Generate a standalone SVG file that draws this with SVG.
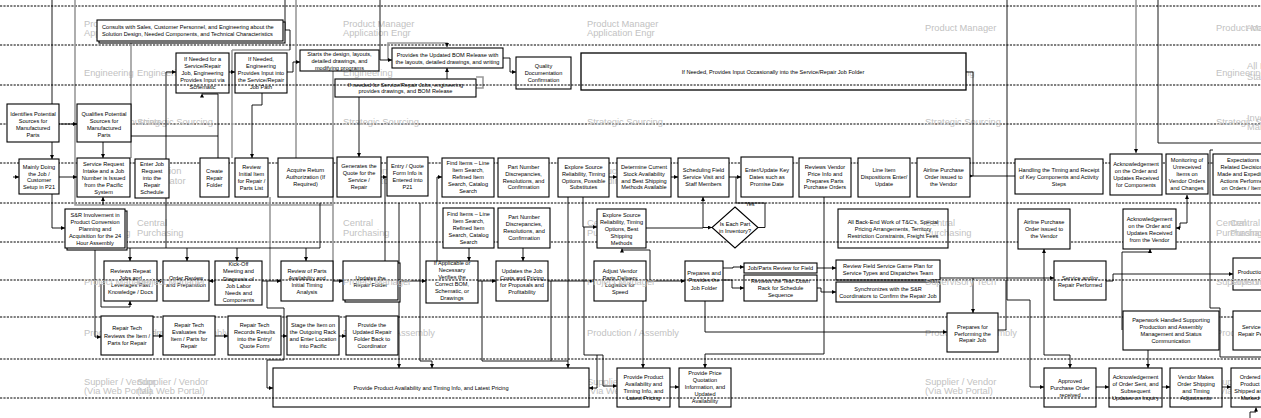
<svg xmlns="http://www.w3.org/2000/svg" width="1261" height="418" viewBox="0 0 1261 418">
<defs>
<marker id="ah" viewBox="0 0 6 6" markerWidth="4" markerHeight="4" refX="6" refY="3" orient="auto-start-reverse" markerUnits="userSpaceOnUse"><path d="M0,0 L6,3 L0,6 z" fill="#000"/></marker>
<marker id="ahg" viewBox="0 0 6 6" markerWidth="4" markerHeight="4" refX="6" refY="3" orient="auto" markerUnits="userSpaceOnUse"><path d="M0,0 L6,3 L0,6 z" fill="#000"/></marker>
</defs>
<style>
.lane{stroke:#000;stroke-width:1;stroke-dasharray:2.2,1.2;fill:none}
.lb{font-family:"Liberation Sans",Arial,sans-serif;font-size:9.3px;fill:#c2c2c2}
.n rect,.n polygon{fill:#fff;stroke:#000;stroke-width:1.1}
.nf rect{fill:none}
.t{font-family:"Liberation Sans",Arial,sans-serif;font-size:5.6px;fill:#000;text-anchor:middle}
.tl{text-anchor:start}
.c{fill:none;stroke:#000;stroke-width:0.9}
.g{fill:none;stroke:#9a9a9a;stroke-width:1.6}
.a{marker-end:url(#ah)}
.ab{marker-start:url(#ah);marker-end:url(#ah)}
.sh{fill:#8a8a8a;stroke:none}
</style>
<rect x="0" y="0" width="1261" height="418" fill="#fff"/>
<g id="lanes-under">
<path class="lane" d="M0,6H1261M0,45H1261M0,124H1261M0,163H1261M0,203H1261M0,242H1261M0,317H1261M0,359H1261"/>
</g>
<g id="lane-labels">
<text class="lb" x="84" y="26.8">Product Manager</text><text class="lb" x="84" y="36.2">Application Engr</text>
<text class="lb" x="137" y="26.8">Product Manager</text><text class="lb" x="137" y="36.2">Application Engr</text>
<text class="lb" x="343" y="26.8">Product Manager</text><text class="lb" x="343" y="36.2">Application Engr</text>
<text class="lb" x="587" y="26.8">Product Manager</text><text class="lb" x="587" y="36.2">Application Engr</text>
<text class="lb" x="925" y="31">Product Manager</text><text class="lb" x="1216" y="31">Product Manager</text><text class="lb" x="1246" y="31">Account Manager</text>
<text class="lb" x="84" y="75.5">Engineering</text><text class="lb" x="137" y="75.5">Engineering</text><text class="lb" x="343" y="75.5">Engineering</text><text class="lb" x="925" y="75.5">Engineering</text><text class="lb" x="1216" y="75.5">Engineering</text>
<text class="lb" x="1247" y="68.5">All Lead</text><text class="lb" x="1247" y="79.5">Staff</text>
<text class="lb" x="84" y="125.3">Strategic Sourcing</text><text class="lb" x="137" y="125.3">Strategic Sourcing</text><text class="lb" x="343" y="125.3">Strategic Sourcing</text><text class="lb" x="587" y="125.3">Strategic Sourcing</text><text class="lb" x="925" y="125.3">Strategic Sourcing</text><text class="lb" x="1216" y="125.3">Strategic Sourcing</text>
<text class="lb" x="1247" y="120.5">Inventory</text><text class="lb" x="1247" y="129.5">Management</text>
<text class="lb" x="137" y="173.5">Production</text><text class="lb" x="137" y="183.5">Coordinator</text>
<text class="lb" x="343" y="173.5">Production</text><text class="lb" x="343" y="183.5">Coordinator</text>
<text class="lb" x="587" y="173.5">Production</text><text class="lb" x="587" y="183.5">Coordinator</text>
<text class="lb" x="84" y="226.3">Central</text><text class="lb" x="84" y="236.3">Purchasing</text>
<text class="lb" x="137" y="226.3">Central</text><text class="lb" x="137" y="236.3">Purchasing</text>
<text class="lb" x="343" y="226.3">Central</text><text class="lb" x="343" y="236.3">Purchasing</text>
<text class="lb" x="587" y="226.3">Central</text><text class="lb" x="587" y="236.3">Purchasing</text>
<text class="lb" x="925" y="226.3">Central</text><text class="lb" x="925" y="236.3">Purchasing</text>
<text class="lb" x="1216" y="226.3">Central</text><text class="lb" x="1216" y="236.3">Purchasing</text>
<text class="lb" x="1230" y="226.3">Central</text><text class="lb" x="1230" y="236.3">Purchasing</text>
<text class="lb" x="84" y="335.5">Production / Assembly</text><text class="lb" x="137" y="335.5">Production / Assembly</text><text class="lb" x="343" y="335.5">Production / Assembly</text><text class="lb" x="587" y="335.5">Production / Assembly</text><text class="lb" x="925" y="335.5">Production / Assembly</text><text class="lb" x="1216" y="335.5">Production / Assembly</text>
<text class="lb" x="84" y="384.5">Supplier / Vendor</text><text class="lb" x="84" y="393.5">(Via Web Portal)</text>
<text class="lb" x="137" y="384.5">Supplier / Vendor</text><text class="lb" x="137" y="393.5">(Via Web Portal)</text>
<text class="lb" x="343" y="384.5">Supplier / Vendor</text><text class="lb" x="343" y="393.5">(Via Web Portal)</text>
<text class="lb" x="587" y="384.5">Supplier / Vendor</text><text class="lb" x="587" y="393.5">(Via Web Portal)</text>
<text class="lb" x="925" y="384.5">Supplier / Vendor</text><text class="lb" x="925" y="393.5">(Via Web Portal)</text>
<text class="lb" x="1216" y="384.5">Supplier / Vendor</text><text class="lb" x="1216" y="393.5">(Via Web Portal)</text>
</g>
<g id="connectors">
<path class="g" d="M75,0V205H333"/>
<path class="g" d="M131,41V158"/>
<path class="g" d="M232,50V158M232,50H290"/>
<path class="g" d="M296,0V158"/>
<path class="g" d="M388,60V43H447V47" marker-end="url(#ahg)"/>
<path class="g" d="M476,77H483V88H476"/>
<path class="g" d="M333,70V280"/>
<path class="g" d="M270,197V281"/>
<path class="g" d="M1136,0V153" marker-end="url(#ahg)"/>
<path class="c a" d="M13,177H19"/>
<path class="c" d="M52,0V104"/>
<path class="c a" d="M59,124H77"/>
<path class="c a" d="M52,142V159"/>
<path class="c a" d="M103,142V158"/>
<path class="c a" d="M131,136H166V72H176"/>
<path class="c" d="M166,136V248M166,136H218"/>
<path class="c a" d="M218,158V94H202V93.5"/>
<path class="c a" d="M229,72H235"/>
<path class="c a" d="M262,93V105H252V158"/>
<path class="c a" d="M287,72H293V62H300"/>
<path class="c" d="M285,0V30H290V50M283,30H285"/>
<path class="c a" d="M380,0V60H392"/>
<path class="c a" d="M447,79V68"/>
<path class="c a" d="M503,58H510V72H516"/>
<path class="c a" d="M359,97V157"/>
<path class="c a" d="M59,177H77"/>
<path class="c a" d="M52,194V228H65"/>
<path class="c a" d="M103,205V197"/>
<path class="c a" d="M381,177H387"/>
<path class="c" d="M385,177V280"/>
<path class="c a" d="M399,203V368"/>
<path class="c a" d="M420,203V361H432V368"/>
<path class="c a" d="M437,280V177H442"/>
<path class="c a" d="M469,248V261"/>
<path class="c a" d="M523,248V261"/>
<path class="c a" d="M609,177H617"/>
<path class="c a" d="M671,177H678"/>
<path class="c a" d="M729,177H741"/>
<path class="c a" d="M583,197V227H597"/>
<path class="c a" d="M568,197V368"/>
<path class="c a" d="M584,227V355H603V386H617"/>
<path class="c a" d="M597,355V388H589"/>
<path class="c" d="M482,281V361H568M551,281V361"/>
<path class="c a" d="M646,228H703V197"/>
<path class="c a" d="M703,227.5H712"/>
<path class="c" d="M758,227.5H765V203H736V177"/>
<path class="c a" d="M824,197V354H705V368"/>
<path class="c a" d="M650,281V250H622V248.5"/>
<path class="c a" d="M966,72H973V176H1015M970,176H973"/>
<path class="c a" d="M1007,0V300H1030V387H1044"/>
<path class="c" d="M1158,0V143H1261"/>
<path class="c" d="M1213,150H1210V308H1220V357H1261"/>
<path class="c ab" d="M1187,195V223H1180V228H1176"/>
<path class="c ab" d="M1044,249V355H1070V368"/>
<path class="c a" d="M1122,330V252H1150V249"/>
<path class="c a" d="M1148,350V368"/>
<path class="c a" d="M1096,387H1109"/>
<path class="c a" d="M1162,387H1170"/>
<path class="c a" d="M1222,387H1231"/>
<path class="c a" d="M940,278H1054"/>
<path class="c a" d="M973,278V313"/>
<path class="c" d="M998,330H1006V280"/>
<path class="c a" d="M705,301V332H947"/>
<path class="c a" d="M1106,281H1113V274H1233"/>
<path class="c a" d="M163,281H157"/>
<path class="c a" d="M215,281H209"/>
<path class="c a" d="M262,281H281"/>
<path class="c a" d="M333,281H343"/>
<path class="c a" d="M398,281H426"/>
<path class="c a" d="M478,281H496"/>
<path class="c a" d="M548,281H594"/>
<path class="c a" d="M646,281H685"/>
<path class="c a" d="M723,268H733V267H744"/>
<path class="c a" d="M723,280H732V288H744"/>
<path class="c a" d="M817,268H836"/>
<path class="c a" d="M817,288H821V292H836"/>
<path class="c" d="M95,248H320M320,203V248"/>
<path class="c a" d="M130,248V261"/>
<path class="c a" d="M187,248V261"/>
<path class="c a" d="M237,248V261"/>
<path class="c a" d="M306,248V261"/>
<path class="c a" d="M95,248V337H101"/>
<path class="c a" d="M101,284V307H130V301"/>
<path class="c a" d="M153,336H163"/>
<path class="c a" d="M215,336H228"/>
<path class="c a" d="M281,336H287"/>
<path class="c a" d="M339,336H346"/>
<path class="c a" d="M267,281V308H284V360H267V388H273"/>
<path class="c a" d="M670,387H679"/>
<path class="c a" d="M643,301V368"/>
<path class="c a" d="M1250,418V412H1256V407.5"/>
</g>
<g id="n-consults" class="n"><rect class="sh" x="99" y="22" width="186" height="21"/><rect x="97" y="20" width="186" height="21"/><text class="t tl"><tspan x="102" y="29">Consults with Sales, Customer Personnel, and Engineering about the</tspan><tspan x="102" y="36">Solution Design, Needed Components, and Technical Characteristics</tspan></text></g>
<g id="n-eng-schematic" class="n"><rect x="176" y="53" width="53" height="40"/><text class="t"><tspan x="202.5" y="61.3">If Needed for a</tspan><tspan x="202.5" y="68.3">Service/Repair</tspan><tspan x="202.5" y="75.3">Job, Engineering</tspan><tspan x="202.5" y="82.3">Provides Input via</tspan><tspan x="202.5" y="89.3">Schematic</tspan></text></g>
<g id="n-eng-path" class="n"><rect x="235" y="53" width="52" height="40"/><text class="t"><tspan x="261" y="61.3">If Needed,</tspan><tspan x="261" y="68.3">Engineering</tspan><tspan x="261" y="75.3">Provides Input into</tspan><tspan x="261" y="82.3">the Service/Repair</tspan><tspan x="261" y="89.3">Job Path</tspan></text></g>
<g id="n-identifies" class="n"><rect x="7" y="104" width="52" height="38"/><text class="t"><tspan x="33" y="116">Identifies Potential</tspan><tspan x="33" y="122.9">Sources for</tspan><tspan x="33" y="129.8">Manufactured</tspan><tspan x="33" y="137">Parts</tspan></text></g>
<g id="n-qualifies" class="n"><rect x="77" y="104" width="54" height="38"/><text class="t"><tspan x="104" y="116">Qualifies Potential</tspan><tspan x="104" y="122.9">Sources for</tspan><tspan x="104" y="129.8">Manufactured</tspan><tspan x="104" y="137">Parts</tspan></text></g>
<g id="n-starts" class="n"><rect x="300" y="50" width="79" height="21"/><text class="t"><tspan x="339.5" y="56.3">Starts the design, layouts,</tspan><tspan x="339.5" y="63">detailed drawings, and</tspan><tspan x="339.5" y="69.7">modifying programs</tspan></text></g>
<g id="n-bom" class="n"><rect x="392" y="48" width="111" height="20"/><text class="t"><tspan x="447.5" y="56.5">Provides the Updated BOM Release with</tspan><tspan x="447.5" y="63.5">the layouts, detailed drawings, and writing</tspan></text></g>
<g id="n-svc-drawings" class="n"><rect x="335" y="79" width="141" height="18"/><text class="t"><tspan x="405.5" y="86.8">If needed for Service/Repair Jobs, engineering</tspan><tspan x="405.5" y="93.3">provides drawings, and BOM Release</tspan></text></g>
<g id="n-quality" class="n"><rect x="516" y="57" width="55" height="32"/><text class="t"><tspan x="543.5" y="68">Quality</tspan><tspan x="543.5" y="74.9">Documentation</tspan><tspan x="543.5" y="82">Confirmation</tspan></text></g>
<g id="n-input-folder" class="n"><rect x="581" y="53" width="385" height="37" style="stroke-width:1.3"/><text class="t" x="773" y="74">If Needed, Provides Input Occasionally into the Service/Repair Job Folder</text></g>
<g id="n-mainly" class="n"><rect x="19" y="159" width="40" height="35"/><text class="t"><tspan x="39" y="168.7">Mainly Doing</tspan><tspan x="39" y="175.5">the Job /</tspan><tspan x="39" y="182.2">Customer</tspan><tspan x="39" y="189">Setup in P21</tspan></text></g>
<g id="n-intake" class="n"><rect x="77" y="158" width="53" height="39"/><text class="t"><tspan x="103.5" y="166.3">Service Request</tspan><tspan x="103.5" y="173.2">Intake and a Job</tspan><tspan x="103.5" y="180.2">Number is Issued</tspan><tspan x="103.5" y="187.1">from the Pacific</tspan><tspan x="103.5" y="194">System</tspan></text></g>
<g id="n-enter-job" class="n"><rect x="135" y="159" width="34" height="39"/><text class="t"><tspan x="152" y="166.3">Enter Job</tspan><tspan x="152" y="173.2">Request</tspan><tspan x="152" y="180.2">into the</tspan><tspan x="152" y="187.1">Repair</tspan><tspan x="152" y="194">Schedule</tspan></text></g>
<g id="n-create-folder" class="n"><rect x="200" y="158" width="29" height="39"/><text class="t"><tspan x="214.5" y="173">Create</tspan><tspan x="214.5" y="179.9">Repair</tspan><tspan x="214.5" y="187">Folder</tspan></text></g>
<g id="n-review-initial" class="n"><rect x="235" y="158" width="33" height="39"/><text class="t"><tspan x="251.5" y="169.3">Review</tspan><tspan x="251.5" y="176.2">Initial Item</tspan><tspan x="251.5" y="183">for Repair /</tspan><tspan x="251.5" y="189.9">Parts List</tspan></text></g>
<g id="n-acquire" class="n"><rect x="278" y="158" width="55" height="39"/><text class="t"><tspan x="305.5" y="172">Acquire Return</tspan><tspan x="305.5" y="178.9">Authorization (If</tspan><tspan x="305.5" y="185.7">Required)</tspan></text></g>
<g id="n-generates" class="n"><rect x="337" y="157" width="44" height="40"/><text class="t"><tspan x="359" y="167.7">Generates the</tspan><tspan x="359" y="174.7">Quote for the</tspan><tspan x="359" y="182">Service /</tspan><tspan x="359" y="189.3">Repair</tspan></text></g>
<g id="n-entry" class="n"><rect x="387" y="157" width="41" height="39"/><text class="t"><tspan x="407.5" y="167.7">Entry / Quote</tspan><tspan x="407.5" y="174.7">Form Info is</tspan><tspan x="407.5" y="182">Entered into</tspan><tspan x="407.5" y="189.3">P21</tspan></text></g>
<g id="n-find1" class="n"><rect x="442" y="158" width="52" height="39"/><text class="t"><tspan x="468" y="164.5">Find Items – Line</tspan><tspan x="468" y="171.6">Item Search,</tspan><tspan x="468" y="178.8">Refined Item</tspan><tspan x="468" y="185.9">Search, Catalog</tspan><tspan x="468" y="193">Search</tspan></text></g>
<g id="n-partnum1" class="n"><rect x="498" y="158" width="51" height="39"/><text class="t"><tspan x="523.5" y="168.7">Part Number</tspan><tspan x="523.5" y="175.6">Discrepancies,</tspan><tspan x="523.5" y="182.5">Resolutions, and</tspan><tspan x="523.5" y="189.4">Confirmation</tspan></text></g>
<g id="n-explore1" class="n"><rect x="558" y="158" width="51" height="39"/><text class="t"><tspan x="583.5" y="168.7">Explore Source</tspan><tspan x="583.5" y="175.6">Reliability, Timing</tspan><tspan x="583.5" y="182.5">Options, Possible</tspan><tspan x="583.5" y="189.4">Substitutes</tspan></text></g>
<g id="n-determine" class="n"><rect x="617" y="158" width="54" height="39"/><text class="t"><tspan x="644" y="168.7">Determine Current</tspan><tspan x="644" y="175.6">Stock Availability</tspan><tspan x="644" y="182.5">and Best Shipping</tspan><tspan x="644" y="189.4">Methods Available</tspan></text></g>
<g id="n-scheduling" class="n"><rect x="678" y="158" width="51" height="39"/><text class="t"><tspan x="703.5" y="172">Scheduling Field</tspan><tspan x="703.5" y="178.9">Service Visit and</tspan><tspan x="703.5" y="185.7">Staff Members</tspan></text></g>
<g id="n-key-dates" class="n"><rect x="741" y="157" width="52" height="40"/><text class="t"><tspan x="767" y="172">Enter/Update Key</tspan><tspan x="767" y="178.9">Dates such as</tspan><tspan x="767" y="185.7">Promise Date</tspan></text></g>
<g id="n-vendor-price" class="n"><rect x="799" y="158" width="52" height="39"/><text class="t"><tspan x="825" y="168.7">Reviews Vendor</tspan><tspan x="825" y="175.6">Price Info and</tspan><tspan x="825" y="182.5">Prepares Parts</tspan><tspan x="825" y="189.4">Purchase Orders</tspan></text></g>
<g id="n-line-item" class="n"><rect x="858" y="158" width="52" height="39"/><text class="t"><tspan x="884" y="172">Line Item</tspan><tspan x="884" y="178.9">Dispositions Enter/</tspan><tspan x="884" y="185.7">Update</tspan></text></g>
<g id="n-airline1" class="n"><rect x="917" y="158" width="53" height="39"/><text class="t"><tspan x="943.5" y="172">Airline Purchase</tspan><tspan x="943.5" y="178.9">Order issued to</tspan><tspan x="943.5" y="185.7">the Vendor</tspan></text></g>
<g id="n-handling" class="n"><rect x="1015" y="159" width="88" height="35"/><text class="t"><tspan x="1059" y="172">Handling the Timing and Receipt</tspan><tspan x="1059" y="178.9">of Key Components and Activity</tspan><tspan x="1059" y="185.7">Steps</tspan></text></g>
<g id="n-ack-components" class="n"><rect x="1110" y="154" width="52" height="41"/><text class="t"><tspan x="1136" y="166.3">Acknowledgement</tspan><tspan x="1136" y="173.2">on the Order and</tspan><tspan x="1136" y="180.2">Updates Received</tspan><tspan x="1136" y="187.1">for Components</tspan></text></g>
<g id="n-monitoring" class="n"><rect x="1166" y="154" width="42" height="40"/><text class="t"><tspan x="1187" y="162">Monitoring of</tspan><tspan x="1187" y="169">Unreceived</tspan><tspan x="1187" y="176">Items on</tspan><tspan x="1187" y="183">Vendor Orders</tspan><tspan x="1187" y="190">and Changes</tspan></text></g>
<g id="n-expectations" class="n"><rect x="1213" y="154" width="62" height="41"/><text class="t"><tspan x="1243" y="162">Expectations</tspan><tspan x="1243" y="169">Related Decisions</tspan><tspan x="1243" y="176">Made and Expedited</tspan><tspan x="1243" y="183">Actions Performed</tspan><tspan x="1243" y="190">on Orders / Items</tspan></text></g>
<g id="n-snr" class="n"><rect class="sh" x="67" y="211" width="60" height="39"/><rect x="65" y="209" width="60" height="39"/><text class="t"><tspan x="95" y="217">S&amp;R Involvement in</tspan><tspan x="95" y="224">Product Conversion</tspan><tspan x="95" y="231">Planning and</tspan><tspan x="95" y="238">Acquisition for the 24</tspan><tspan x="95" y="245">Hour Assembly</tspan></text></g>
<g id="n-find2" class="n"><rect x="443" y="208" width="51" height="40"/><text class="t"><tspan x="468.5" y="216.3">Find Items – Line</tspan><tspan x="468.5" y="223.2">Item Search,</tspan><tspan x="468.5" y="230.1">Refined Item</tspan><tspan x="468.5" y="237">Search, Catalog</tspan><tspan x="468.5" y="243.9">Search</tspan></text></g>
<g id="n-partnum2" class="n"><rect x="498" y="208" width="52" height="40"/><text class="t"><tspan x="524" y="218.7">Part Number</tspan><tspan x="524" y="225.7">Discrepancies,</tspan><tspan x="524" y="232.7">Resolutions, and</tspan><tspan x="524" y="239.7">Confirmation</tspan></text></g>
<g id="n-explore2" class="n"><rect x="597" y="209" width="49" height="39"/><text class="t"><tspan x="621.5" y="217">Explore Source</tspan><tspan x="621.5" y="224">Reliability, Timing</tspan><tspan x="621.5" y="231">Options, Best</tspan><tspan x="621.5" y="238">Shipping</tspan><tspan x="621.5" y="245">Methods</tspan></text></g>
<g id="n-inventory" class="n"><polygon points="735,207 758,227.5 735,248 712,227.5"/><text class="t"><tspan x="735" y="226.3">Is Each Part</tspan><tspan x="735" y="233.2">in Inventory?</tspan></text></g>
<g id="lbl-yes"><text class="t" x="750" y="205.5">Yes</text></g>
<g id="n-backend" class="n nf"><rect x="838" y="209" width="110" height="39"/><text class="t"><tspan x="893" y="223.7">All Back-End Work of T&amp;C's, Special</tspan><tspan x="893" y="230.7">Pricing Arrangements, Territory</tspan><tspan x="893" y="237.7">Restriction Constraints, Freight Fees</tspan></text></g>
<g id="n-airline2" class="n"><rect x="1018" y="209" width="52" height="40"/><text class="t"><tspan x="1044" y="224.3">Airline Purchase</tspan><tspan x="1044" y="231.2">Order issued to</tspan><tspan x="1044" y="238.1">the Vendor</tspan></text></g>
<g id="n-ack-vendor" class="n"><rect x="1123" y="209" width="53" height="40"/><text class="t"><tspan x="1149.5" y="221.3">Acknowledgement</tspan><tspan x="1149.5" y="228.2">on the Order and</tspan><tspan x="1149.5" y="235.1">Updates Received</tspan><tspan x="1149.5" y="242">from the Vendor</tspan></text></g>
<g id="n-repeat" class="n"><rect x="104" y="261" width="53" height="40"/><text class="t"><tspan x="130.5" y="273">Reviews Repeat</tspan><tspan x="130.5" y="279.9">Jobs and</tspan><tspan x="130.5" y="286.7">Leverages Past</tspan><tspan x="130.5" y="293.5">Knowledge / Docs</tspan></text></g>
<g id="n-order-review" class="n"><rect x="163" y="261" width="46" height="40"/><text class="t"><tspan x="186" y="280">Order Review</tspan><tspan x="186" y="286.9">and Preparation</tspan></text></g>
<g id="n-kickoff" class="n"><rect x="215" y="261" width="47" height="44"/><text class="t"><tspan x="238.5" y="266.3">Kick-Off</tspan><tspan x="238.5" y="273.4">Meeting and</tspan><tspan x="238.5" y="280.5">Diagnosis of</tspan><tspan x="238.5" y="287.6">Job Labor</tspan><tspan x="238.5" y="294.8">Needs and</tspan><tspan x="238.5" y="302">Components</tspan></text></g>
<g id="n-parts-avail" class="n"><rect x="281" y="261" width="52" height="40"/><text class="t"><tspan x="307" y="273">Review of Parts</tspan><tspan x="307" y="279.9">Availability and</tspan><tspan x="307" y="286.7">Initial Timing</tspan><tspan x="307" y="293.5">Analysis</tspan></text></g>
<g id="n-update-folder" class="n"><rect class="sh" x="345" y="263" width="55" height="39"/><rect x="343" y="261" width="55" height="39"/><text class="t"><tspan x="370.5" y="280">Updates the</tspan><tspan x="370.5" y="286.9">Repair Folder</tspan></text></g>
<g id="n-verify-bom" class="n"><rect x="426" y="261" width="52" height="42"/><text class="t"><tspan x="452" y="265.3">If Applicable or</tspan><tspan x="452" y="272.3">Necessary</tspan><tspan x="452" y="279.3">Verifies the</tspan><tspan x="452" y="286.3">Correct BOM,</tspan><tspan x="452" y="293.3">Schematic, or</tspan><tspan x="452" y="300.3">Drawings</tspan></text></g>
<g id="n-job-costs" class="n"><rect x="496" y="261" width="52" height="40"/><text class="t"><tspan x="522" y="273">Updates the Job</tspan><tspan x="522" y="279.9">Costs and Pricing</tspan><tspan x="522" y="286.7">for Proposals and</tspan><tspan x="522" y="293.5">Profitability</tspan></text></g>
<g id="n-adjust" class="n"><rect x="594" y="261" width="52" height="40"/><text class="t"><tspan x="620" y="273">Adjust Vendor</tspan><tspan x="620" y="279.9">Parts Delivery</tspan><tspan x="620" y="286.7">Logistics for</tspan><tspan x="620" y="293.5">Speed</tspan></text></g>
<g id="n-job-folder" class="n"><rect x="685" y="261" width="38" height="40"/><text class="t"><tspan x="704" y="275">Prepares and</tspan><tspan x="704" y="282.2">Provides the</tspan><tspan x="704" y="289.5">Job Folder</tspan></text></g>
<g id="n-jobparts" class="n"><rect x="744" y="263" width="73" height="10"/><text class="t" x="780.5" y="270">Job/Parts Review for Field</text></g>
<g id="n-teardown" class="n"><rect x="744" y="275" width="73" height="26"/><text class="t"><tspan x="780.5" y="283">Reviews the Tear-Down</tspan><tspan x="780.5" y="290">Rack for Schedule</tspan><tspan x="780.5" y="297">Sequence</tspan></text></g>
<g id="n-gameplan" class="n"><rect x="836" y="260" width="104" height="20"/><text class="t"><tspan x="888" y="268">Review Field Service Game Plan for</tspan><tspan x="888" y="275">Service Types and Dispatches Team</tspan></text></g>
<g id="n-sync" class="n"><rect x="836" y="282" width="104" height="20"/><text class="t"><tspan x="888" y="291">Synchronizes with the S&amp;R</tspan><tspan x="888" y="297.9">Coordinators to Confirm the Repair Job</tspan></text></g>
<g id="n-performed" class="n"><rect x="1054" y="261" width="52" height="39"/><text class="t"><tspan x="1080" y="280">Service and/or</tspan><tspan x="1080" y="287">Repair Performed</tspan></text></g>
<g id="n-production" class="n"><rect x="1233" y="258" width="60" height="32"/><text class="t" x="1251" y="274">Production</text></g>
<g id="n-rt-reviews" class="n"><rect x="101" y="316" width="52" height="39"/><text class="t"><tspan x="127" y="330.3">Repair Tech</tspan><tspan x="127" y="337.5">Reviews the Item /</tspan><tspan x="127" y="344.7">Parts for Repair</tspan></text></g>
<g id="n-rt-evaluates" class="n"><rect x="163" y="316" width="52" height="39"/><text class="t"><tspan x="189" y="327">Repair Tech</tspan><tspan x="189" y="333.9">Evaluates the</tspan><tspan x="189" y="340.8">Item / Parts for</tspan><tspan x="189" y="347.7">Repair</tspan></text></g>
<g id="n-rt-records" class="n"><rect x="228" y="316" width="53" height="39"/><text class="t"><tspan x="254.5" y="327">Repair Tech</tspan><tspan x="254.5" y="333.9">Records Results</tspan><tspan x="254.5" y="340.8">into the Entry/</tspan><tspan x="254.5" y="347.7">Quote Form</tspan></text></g>
<g id="n-stage" class="n"><rect x="287" y="316" width="52" height="39"/><text class="t"><tspan x="313" y="327">Stage the Item on</tspan><tspan x="313" y="333.9">the Outgoing Rack</tspan><tspan x="313" y="340.8">and Enter Location</tspan><tspan x="313" y="347.7">into Pacific</tspan></text></g>
<g id="n-folder-back" class="n"><rect x="346" y="316" width="52" height="39"/><text class="t"><tspan x="372" y="327">Provide the</tspan><tspan x="372" y="333.9">Updated Repair</tspan><tspan x="372" y="340.8">Folder Back to</tspan><tspan x="372" y="347.7">Coordinator</tspan></text></g>
<g id="n-prep-repair" class="n"><rect x="947" y="313" width="51" height="39"/><text class="t"><tspan x="972.5" y="328.7">Prepares for</tspan><tspan x="972.5" y="335.5">Performing the</tspan><tspan x="972.5" y="342.3">Repair Job</tspan></text></g>
<g id="n-paperwork" class="n"><rect x="1123" y="311" width="96" height="39"/><text class="t"><tspan x="1171" y="322">Paperwork Handled Supporting</tspan><tspan x="1171" y="329">Production and Assembly</tspan><tspan x="1171" y="336">Management and Status</tspan><tspan x="1171" y="343">Communication</tspan></text></g>
<g id="n-service-right" class="n"><rect x="1233" y="311" width="60" height="39"/><text class="t"><tspan x="1260" y="329.3">Service and/or</tspan><tspan x="1260" y="336.3">Repair Performed</tspan></text></g>
<g id="n-avail-big" class="n"><rect x="273" y="368" width="316" height="39"/><text class="t" x="431" y="390">Provide Product Availability and Timing Info, and Latest Pricing</text></g>
<g id="n-avail-small" class="n"><rect x="617" y="368" width="53" height="39"/><text class="t"><tspan x="643.5" y="378.7">Provide Product</tspan><tspan x="643.5" y="385.9">Availability and</tspan><tspan x="643.5" y="393.1">Timing Info, and</tspan><tspan x="643.5" y="400.3">Latest Pricing</tspan></text></g>
<g id="n-quotation" class="n"><rect x="679" y="368" width="52" height="39"/><text class="t"><tspan x="705" y="374.7">Provide Price</tspan><tspan x="705" y="381.8">Quotation</tspan><tspan x="705" y="388.9">Information, and</tspan><tspan x="705" y="396">Updated</tspan><tspan x="705" y="403">Availability</tspan></text></g>
<g id="n-approved" class="n"><rect x="1044" y="368" width="52" height="39"/><text class="t"><tspan x="1070" y="383">Approved</tspan><tspan x="1070" y="389.9">Purchase Order</tspan><tspan x="1070" y="396.8">received</tspan></text></g>
<g id="n-ack-order" class="n"><rect x="1109" y="368" width="53" height="39"/><text class="t"><tspan x="1135.5" y="378.7">Acknowledgement</tspan><tspan x="1135.5" y="385.9">of Order Sent, and</tspan><tspan x="1135.5" y="393.1">Subsequent</tspan><tspan x="1135.5" y="400.3">Updates on Inquiry</tspan></text></g>
<g id="n-vendor-ship" class="n"><rect x="1170" y="368" width="52" height="39"/><text class="t"><tspan x="1196" y="378.7">Vendor Makes</tspan><tspan x="1196" y="385.9">Order Shipping</tspan><tspan x="1196" y="393.1">and Timing</tspan><tspan x="1196" y="400.3">Adjustments</tspan></text></g>
<g id="n-ordered" class="n"><rect x="1231" y="368" width="60" height="39"/><text class="t"><tspan x="1250" y="378.7">Ordered</tspan><tspan x="1250" y="385.9">Product</tspan><tspan x="1250" y="393.1">Shipped and</tspan><tspan x="1250" y="400.3">Marked</tspan></text></g>
<g id="lanes-over">
<path class="lane" d="M0,85H1261M0,280H1261M0,398H1261"/>
<text class="lb" x="84" y="284.5">Project Manager</text><text class="lb" x="137" y="284.5">Project Manager</text><text class="lb" x="343" y="284.5">Project Manager</text><text class="lb" x="587" y="284.5">Project Manager</text>
<text class="lb" x="925" y="284.5">Supervisory Tech</text><text class="lb" x="1216" y="284.5">Supervisory Tech</text><text class="lb" x="1230" y="284.5">Supervisory Tech</text>
</g>
</svg>
